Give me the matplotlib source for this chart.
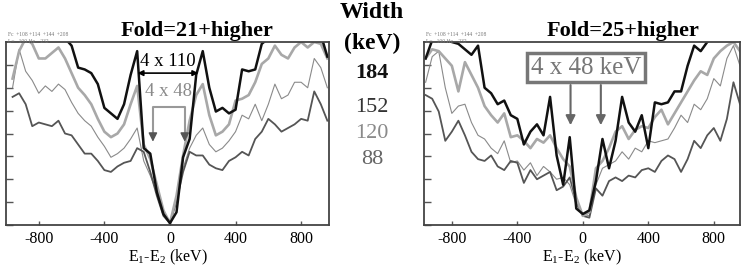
import matplotlib
matplotlib.use("Agg")
import matplotlib.pyplot as plt
import numpy as np

plt.rcParams['font.family'] = ['Liberation Serif', 'DejaVu Serif']
plt.rcParams['mathtext.fontset'] = 'custom'
plt.rcParams['mathtext.rm'] = 'Liberation Serif'
plt.rcParams['mathtext.it'] = 'Liberation Serif:italic'

# bin centres (keV) for E1-E2
e_bins = np.arange(-960, 961, 40)

# Fold=21+higher, curves for the four widths (184, 152, 120, 88 keV), % of frame height
left_184 = [105, 104, 103, 105, 104, 103, 104, 104, 102, 98, 86, 85, 83, 77, 64, 61, 58, 66, 82, 95, 42, 39, 18, 6, 1,
            7, 37, 47, 82, 95, 75, 62, 64, 61, 63, 85, 84, 85, 99, 102, 103, 104, 103, 104, 105, 103, 104, 104, 92]
left_152 = [80, 95, 102, 99, 91, 91, 94, 97, 91, 83, 75, 71, 66, 58, 51, 48, 50, 55, 66, 76, 44, 36, 22, 8, 1,
            16, 38, 57, 71, 77, 60, 49, 51, 55, 68, 69, 71, 78, 88, 91, 98, 93, 91, 97, 100, 97, 100, 99, 91]
left_120 = [75, 96, 84, 79, 72, 76, 73, 77, 74, 67, 61, 57, 54, 48, 43, 37, 39, 42, 47, 53, 35, 27, 18, 6, 1,
            15, 31, 42, 49, 53, 44, 40, 42, 46, 51, 60, 58, 66, 57, 66, 77, 69, 71, 78, 78, 75, 91, 86, 75]
left_88 = [70, 72, 66, 54, 56, 55, 54, 57, 50, 49, 44, 39, 39, 35, 30, 29, 32, 34, 35, 42, 40, 29, 16, 5, 1,
           13, 29, 40, 38, 38, 33, 31, 30, 35, 37, 40, 38, 47, 51, 58, 55, 51, 53, 55, 58, 57, 73, 66, 57]

# Fold=25+higher
right_184 = [91, 101, 101, 101, 100, 99, 96, 93, 98, 75, 72, 66, 68, 60, 58, 44, 51, 55, 49, 70, 38, 22, 48, 9, 6,
             8, 24, 47, 31, 46, 70, 56, 51, 60, 42, 67, 66, 67, 73, 73, 87, 98, 95, 100, 103, 103, 102, 103, 102]
right_152 = [91, 96, 95, 91, 87, 73, 89, 82, 75, 65, 60, 56, 61, 48, 49, 46, 42, 47, 45, 49, 42, 36, 32, 15, 5,
             7, 31, 35, 42, 51, 54, 47, 52, 54, 53, 59, 63, 55, 61, 67, 73, 79, 84, 82, 91, 95, 98, 100, 95]
right_120 = [78, 92, 95, 75, 61, 65, 66, 56, 49, 47, 42, 39, 46, 34, 35, 30, 34, 27, 32, 29, 25, 26, 22, 11, 6,
             5, 22, 31, 33, 35, 40, 36, 42, 40, 46, 45, 46, 47, 53, 60, 56, 66, 63, 69, 80, 76, 91, 98, 87]
right_88 = [71, 69, 62, 46, 51, 57, 49, 40, 36, 35, 38, 32, 30, 35, 34, 23, 30, 25, 27, 29, 19, 21, 26, 13, 5,
            4, 20, 16, 24, 26, 24, 27, 26, 30, 31, 29, 35, 38, 36, 29, 36, 46, 42, 49, 53, 46, 58, 78, 66]

widths = ['184', '152', '120', '88']
colors = ['#111111', '#a8a8a8', '#8a8a8a', '#555555']
lws = [1.8, 1.9, 0.8, 1.3]
width_colors = ['#111111', '#333333', '#8a8a8a', '#666666']

fig = plt.figure(figsize=(7.41, 2.74), dpi=100)
axl = fig.add_axes([6 / 741, 49 / 274, 323 / 741, 183 / 274])
axr = fig.add_axes([424 / 741, 49 / 274, 316 / 741, 183 / 274])


def setup(ax, xlim):
    ax.set_xlim(*xlim)
    ax.set_ylim(0, 100)
    ax.set_xticks([-800, -400, 0, 400, 800])
    ax.set_xticklabels(['-800', '-400', '0', '400', '800'], fontsize=11.5)
    ax.set_yticks(np.arange(0, 100, 12.5))
    ax.set_yticklabels([])
    ax.tick_params(direction='in', length=3, width=1, color='#555', pad=4)
    ax.tick_params(axis='y', length=5)
    for s in ax.spines.values():
        s.set_color('#444')
        s.set_linewidth(1.3)
    ax.set_xlabel('E$_1$-E$_2$ (keV)', fontsize=11.5, labelpad=1)


for ax, data, xlim in [(axl, [left_184, left_152, left_120, left_88], (-1000, 970)),
                       (axr, [right_184, right_152, right_120, right_88], (-970, 960))]:
    setup(ax, xlim)
    # draw lower curves first so black sits on top
    for i in [2, 3, 1, 0]:
        ax.plot(e_bins, data[i], color=colors[i], lw=lws[i])

axl.set_title('Fold=21+higher', fontsize=16, fontweight='bold', pad=4, x=0.59)
axr.set_title('Fold=25+higher', fontsize=16, fontweight='bold', pad=4, x=0.63)

# tiny stats boxes above the frames
for x0 in [8 / 741, 426 / 741]:
    fig.text(x0, 238 / 274, 'Fc  +108 +114  +144  +208', fontsize=4, color='#777')
    fig.text(x0, 231 / 274, 'L=   100 Hz    232', fontsize=4, color='#777')

# left panel annotations
axl.annotate('', xy=(-215, 83), xytext=(190, 83),
             arrowprops=dict(arrowstyle='<|-|>', color='black', lw=1.2, mutation_scale=8))
axl.text(-15, 89.5, '4 x 110', ha='center', va='center', fontsize=13.5, color='black')
axl.text(-10, 73, '4 x 48', ha='center', va='center', fontsize=13.5, color='#8a8a8a')
axl.plot([-104, -104, 90, 90], [49, 64.5, 64.5, 49], color='#999999', lw=1.5)
for xa in [-104, 90]:
    axl.annotate('', xy=(xa, 44), xytext=(xa, 50),
                 arrowprops=dict(arrowstyle='-|>', color='#555555', lw=1, mutation_scale=13))

# right panel annotations
axr.text(22, 86, '4 x 48 keV', ha='center', va='center', fontsize=18, color='#777777',
         bbox=dict(boxstyle='square,pad=0.15', fc='white', ec='#777777', lw=2.5))
for xa in [-75, 110]:
    axr.annotate('', xy=(xa, 53), xytext=(xa, 78),
                 arrowprops=dict(arrowstyle='-|>', color='#666666', lw=1.5, mutation_scale=14))

# width column between the panels
fig.text(372 / 741, 1 - 13 / 274, 'Width', ha='center', va='center', fontsize=17, fontweight='bold')
fig.text(372 / 741, 1 - 43 / 274, '(keV)', ha='center', va='center', fontsize=17, fontweight='bold')
for lab, c, yp in zip(widths, width_colors, [73, 107, 134, 159]):
    fig.text(372 / 741, 1 - yp / 274, lab, ha='center', va='center', fontsize=16, color=c,
             fontweight='bold' if lab == '184' else 'normal')

fig.savefig('out.png', dpi=100)
